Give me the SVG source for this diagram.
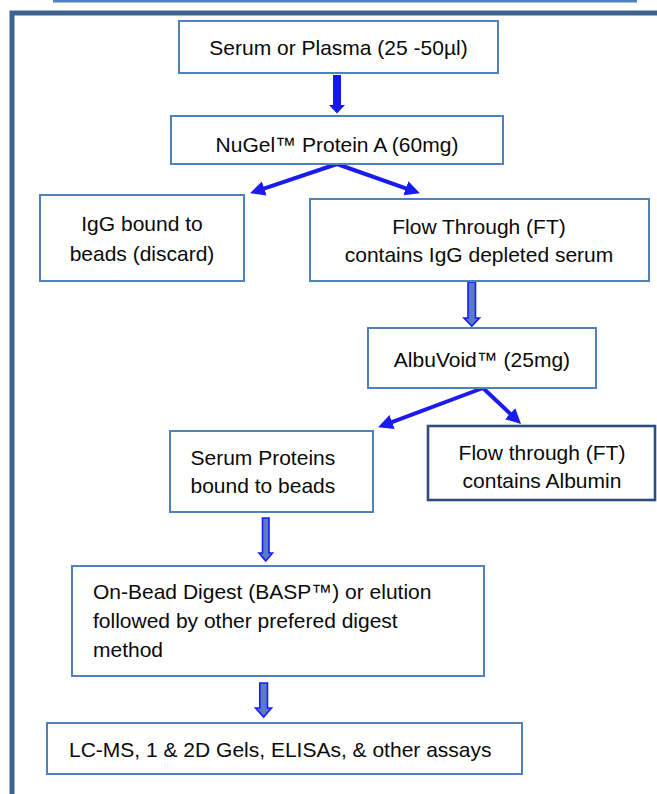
<svg xmlns="http://www.w3.org/2000/svg" width="657" height="794" viewBox="0 0 657 794">
<defs>
<style>
.box{fill:#ffffff;stroke:#4F81BD;stroke-width:2}
.dark{fill:#ffffff;stroke:#2E4E7E;stroke-width:2.6}
text{font-family:"Liberation Sans",Arial,sans-serif;font-size:21px;fill:#0a0a0a}
.c{text-anchor:middle}
.diag{stroke:#1a1af2;stroke-width:4;fill:none;marker-end:url(#head)}
.solid{fill:#1717f2}
.hollow{fill:#5a7cc2;stroke:#1a1aff;stroke-width:1.6;stroke-linejoin:miter}
</style>
<marker id="head" markerUnits="userSpaceOnUse" markerWidth="16" markerHeight="16" refX="6" refY="7.5" orient="auto">
<path d="M0,0 L15,7.5 L0,15 z" fill="#1a1af2"/>
</marker>
</defs>
<rect width="657" height="794" fill="#ffffff"/>
<g id="frame">
<line x1="53" y1="1" x2="637" y2="1" stroke="#4F81BD" stroke-width="3"/>
<rect x="12" y="13" width="720" height="900" fill="none" stroke="#3D6491" stroke-width="5"/>
</g>
<g id="connectors">
<polygon class="solid" points="333,75 341,75 341,105 345,105 337,113.5 329,105 333,105"/>
<path class="diag" d="M337,164 L258.6,190.4"/>
<path class="diag" d="M337,164 L411.5,190.3"/>
<polygon class="hollow" points="468,282 475.5,282 475.5,318 479.5,318 471.8,326 464,318 468,318"/>
<path class="diag" d="M483,388 L386.5,424.2"/>
<path class="diag" d="M483,388 L514.5,417.8"/>
<polygon class="hollow" points="262.5,518 269,518 269,553 272.5,553 265.7,561 259,553 262.5,553"/>
<polygon class="hollow" points="259.8,683 267.5,683 267.5,708 271.5,708 263.6,717 255.5,708 259.8,708"/>
</g>
<g id="serum-plasma">
<rect class="box" x="179" y="21" width="319" height="52"/>
<text class="c" x="338.5" y="55">Serum or Plasma (25 -50µl)</text>
</g>
<g id="nugel">
<rect class="box" x="171" y="116" width="332" height="48"/>
<text class="c" x="337" y="152">NuGel™ Protein A (60mg)</text>
</g>
<g id="igg-bound">
<rect class="box" x="40" y="195" width="204" height="86"/>
<text class="c" x="142" y="231">IgG bound to</text>
<text class="c" x="142" y="261">beads (discard)</text>
</g>
<g id="flow-through-igg">
<rect class="box" x="310" y="199" width="339" height="82"/>
<text class="c" x="479" y="234">Flow Through (FT)</text>
<text class="c" x="479" y="262">contains IgG depleted serum</text>
</g>
<g id="albuvoid">
<rect class="box" x="368" y="328" width="228" height="60"/>
<text class="c" x="482" y="367">AlbuVoid™ (25mg)</text>
</g>
<g id="serum-proteins">
<rect class="box" x="170" y="431" width="203" height="81"/>
<text x="190.5" y="465">Serum Proteins</text>
<text x="190.5" y="493">bound to beads</text>
</g>
<g id="flow-through-albumin">
<rect class="dark" x="428" y="426" width="227" height="74"/>
<text class="c" x="542" y="460">Flow through (FT)</text>
<text class="c" x="542" y="488">contains Albumin</text>
</g>
<g id="on-bead-digest">
<rect class="box" x="72" y="566" width="412" height="110"/>
<text x="93" y="599">On-Bead Digest (BASP™) or elution</text>
<text x="93" y="628">followed by other prefered digest</text>
<text x="93" y="657">method</text>
</g>
<g id="assays">
<rect class="box" x="47" y="723" width="475" height="51"/>
<text x="69" y="757">LC-MS, 1 &amp; 2D Gels, ELISAs, &amp; other assays</text>
</g>
</svg>
